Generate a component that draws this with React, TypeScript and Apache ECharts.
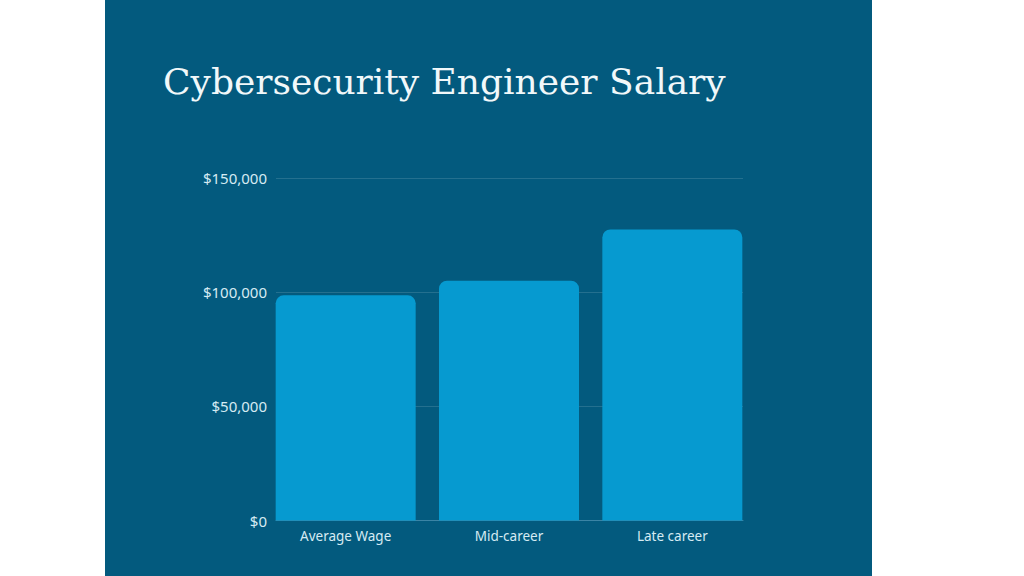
import React, { useEffect, useRef } from "react";
import * as echarts from "echarts";

const categories: string[] = ["Average Wage", "Mid-career", "Late career"];
const salaries: number[] = [98600, 105000, 127500];
const yTicks: number[] = [0, 50000, 100000, 150000];
const titleText = "Cybersecurity Engineer Salary";

const PANEL = "#035a7e";
const BAR = "#069ad0";
const LABEL = "#d6ebf3";

function fmt(v: number): string {
  return "$" + v.toLocaleString("en-US");
}

export default function App() {
  const ref = useRef<HTMLDivElement>(null);
  useEffect(() => {
    document.body.style.margin = "0";
    const chart = echarts.init(ref.current!, null, { renderer: "svg" });
    const yMin = yTicks[0];
    const yMax = yTicks[yTicks.length - 1];
    const yInterval = yTicks[1] - yTicks[0];
    chart.setOption({
      animation: false,
      backgroundColor: "#ffffff",
      graphic: [
        {
          type: "rect",
          z: -10,
          shape: { x: 105, y: 0, width: 767, height: 576 },
          style: { fill: PANEL },
          silent: true,
        },
        {
          type: "text",
          x: 163,
          y: 81,
          style: {
            text: titleText,
            fill: "#f1f8fa",
            font: "36px 'DejaVu Serif'",
            verticalAlign: "middle",
            align: "left",
          },
        },
      ],
      grid: [
        { left: 276, right: 1024 - 743, top: 178, bottom: 576 - 520.5 },
        { left: 264, right: 1024 - 754, top: 178, bottom: 576 - 520.5 },
      ],
      xAxis: [
        {
          type: "category",
          gridIndex: 0,
          data: categories,
          axisLabel: { show: false },
          axisTick: { show: false },
          axisLine: { show: true, lineStyle: { color: "#3b84a5", width: 1 } },
          splitLine: { show: false },
        },
        {
          type: "category",
          gridIndex: 1,
          data: categories,
          axisLabel: {
            show: true,
            color: LABEL,
            fontFamily: "'Noto Sans'",
            fontSize: 13.5,
            margin: 8,
          },
          axisTick: { show: false },
          axisLine: { show: false },
          splitLine: { show: false },
        },
      ],
      yAxis: [
        {
          type: "value",
          gridIndex: 0,
          min: yMin,
          max: yMax,
          interval: yInterval,
          axisLabel: {
            color: LABEL,
            fontFamily: "'Noto Sans'",
            fontSize: 15,
            margin: 9,
            formatter: (v: number) => fmt(v),
          },
          axisLine: { show: false },
          axisTick: { show: false },
          splitLine: { show: true, lineStyle: { color: "#24708f", width: 1 } },
        },
        {
          type: "value",
          gridIndex: 1,
          min: yMin,
          max: yMax,
          interval: yInterval,
          show: false,
          splitLine: { show: false },
        },
      ],
      series: [
        {
          type: "bar",
          xAxisIndex: 1,
          yAxisIndex: 1,
          data: salaries,
          barWidth: 140,
          itemStyle: { color: BAR, borderRadius: [8, 8, 0, 0] },
          z: 1,
        },
      ],
    });
    return () => chart.dispose();
  }, []);
  return (
    <div
      ref={ref}
      style={{ position: "fixed", left: 0, top: 0, width: 1024, height: 576 }}
    />
  );
}
